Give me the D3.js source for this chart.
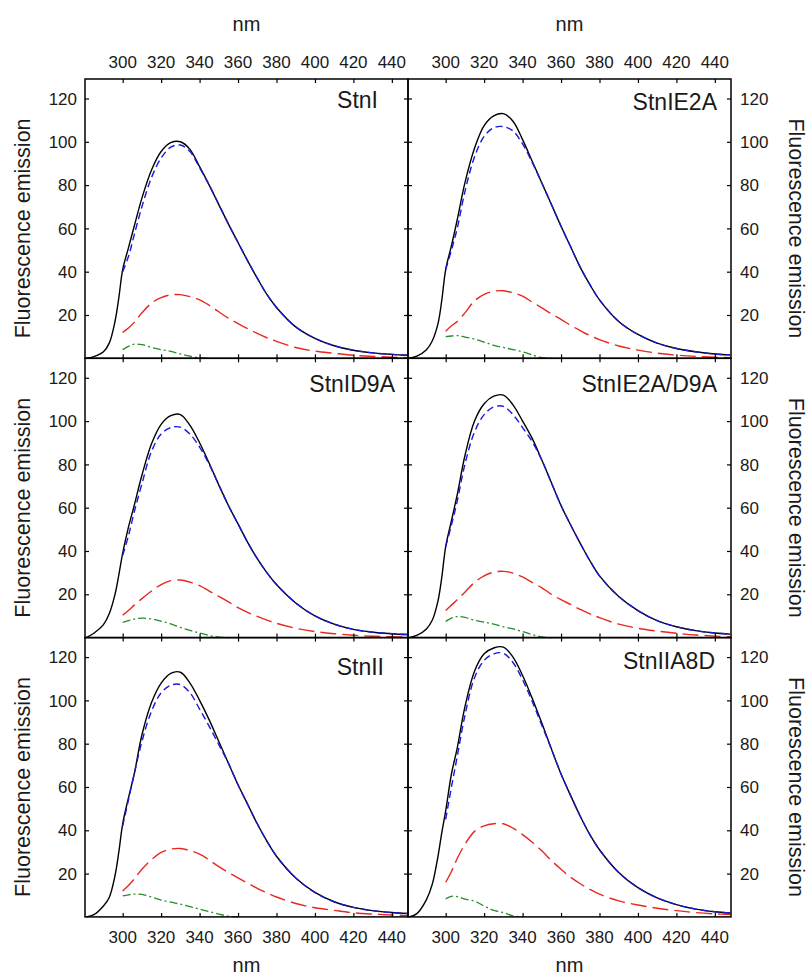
<!DOCTYPE html>
<html>
<head>
<meta charset="utf-8">
<script src="https://cdn.jsdelivr.net/npm/d3@7"></script>
<style>
  body { margin: 0; background: #fff; }
  svg { display: block; }
  text { font-family: "Liberation Sans", Arial, sans-serif; fill: #1a1a1a; }
</style>
</head>
<body>
<svg id="chart" width="811" height="979"></svg>
<script>
// panel labels, row by row
const panelNames = ["StnI", "StnIE2A", "StnID9A", "StnIE2A/D9A", "StnII", "StnIIA8D"];

// wavelength grids (nm)
const wlTotal = [281, 285, 290, 293, 296, 298, 300, 303, 306, 310, 315, 320, 325, 330, 335, 340, 345, 350, 355, 360, 365, 370, 375, 380, 390, 400, 410, 420, 430, 440, 448];
const wlComp = [300, 303, 306, 310, 315, 320, 325, 330, 335, 340, 345, 350, 355, 360, 365, 370, 375, 380, 390, 400, 410, 420, 430, 440, 448];
const wlMinor = [300, 303, 306, 310, 315, 320, 325, 330, 335, 340, 345, 350, 355, 360];

const xTicks = [300, 320, 340, 360, 380, 400, 420, 440];
const yTicks = [20, 40, 60, 80, 100, 120];

// measured emission (black, solid)
const stnI_total    = [0, 0.8, 3, 7, 17, 28, 41, 51, 61, 74, 87, 95.5, 99.6, 100, 96.5, 88.5, 80, 71, 62, 53.5, 45, 37, 29.5, 23.5, 14.5, 9.2, 5.8, 3.7, 2.5, 1.8, 1.4];
const stnIE2A_total = [0, 1, 4, 8, 16, 27, 41, 52, 64, 81, 97, 107.5, 112, 113, 109.5, 101, 91, 81, 71, 61, 51.5, 42, 34, 27, 17, 11, 7, 4.5, 3, 2, 1.6];
const stnID9A_total = [0, 2, 6, 11, 20, 29, 39, 51, 61, 75, 89.5, 98.5, 102.5, 103, 98, 90, 80.5, 70.5, 61, 52.5, 44, 36.5, 30, 24.5, 16, 10, 6.2, 3.8, 2.5, 1.8, 1.4];
const stnIE2AD9A_total = [0, 1, 4, 8, 17, 28, 42, 54, 66, 84, 100, 108, 111.5, 112, 107.5, 100, 92, 82, 71.5, 61, 52, 43.5, 35.5, 28.5, 19, 12.5, 7.8, 5, 3.2, 2.1, 1.6];
const stnII_total   = [0, 1, 5, 9, 19, 30, 43, 55, 66, 84, 99, 108, 112.5, 113, 108, 100, 91, 81, 71, 61, 52, 43, 35, 28, 18, 11.3, 7, 4.4, 2.9, 2, 1.6];
const stnIIA8D_total = [0, 1.5, 8, 15, 28, 39, 49, 66, 78, 97, 113.5, 121.5, 124.2, 124.6, 120, 111.5, 101, 89.5, 77.5, 66, 56, 46.5, 38, 31, 20.5, 13.5, 8.8, 5.7, 3.6, 2.4, 1.8];

// first component (blue, short dash)
const stnI_c1    = [40, 47, 57, 70, 83.5, 92.5, 97.5, 98.5, 95.5, 88, 80, 71, 62, 53.5, 45, 37, 29.5, 23.5, 14.5, 9.2, 5.8, 3.7, 2.5, 1.8, 1.4];
const stnIE2A_c1 = [41, 50, 60, 77, 93, 102.5, 106.5, 107, 105, 99, 90.5, 81, 71, 61, 51.5, 42, 34, 27, 17, 11, 7, 4.5, 3, 2, 1.6];
const stnID9A_c1 = [38, 47, 58, 71, 86, 94, 97, 97.2, 94, 88, 80, 70.5, 61, 52.5, 44, 36.5, 30, 24.5, 16, 10, 6.2, 3.8, 2.5, 1.8, 1.4];
const stnIE2AD9A_c1 = [42, 52, 63, 80, 95, 103, 106.5, 106.8, 103, 97, 90.5, 82, 71.5, 61, 52, 43.5, 35.5, 28.5, 19, 12.5, 7.8, 5, 3.2, 2.1, 1.6];
const stnII_c1   = [42, 54, 66, 81, 95, 103.5, 107, 107.3, 103.5, 96, 88, 79.5, 71, 61, 52, 43, 35, 28, 18, 11.3, 7, 4.4, 2.9, 2, 1.6];
const stnIIA8D_c1 = [45, 60, 74, 93, 110.5, 118.5, 121.5, 121.8, 117.5, 109.5, 99.5, 88.5, 77.5, 66, 56, 46.5, 38, 31, 20.5, 13.5, 8.8, 5.7, 3.6, 2.4, 1.8];

// second component (red, long dash)
const stnI_c2    = [12, 14, 16.6, 21, 25.5, 28, 29.3, 29.4, 28.5, 27, 24.5, 21.5, 18.5, 16, 13.7, 11.5, 9.5, 7.8, 5, 3.3, 2.3, 1.4, 0.9, 0.5, 0.3];
const stnIE2A_c2 = [12.5, 15, 17, 21, 26.5, 29.5, 31, 31.2, 30.3, 28.7, 26, 23.3, 20.5, 18, 15.2, 12.8, 10.5, 8.6, 5.7, 3.8, 2.4, 1.5, 0.9, 0.5, 0.3];
const stnID9A_c2 = [10.4, 12.5, 15, 18, 21.5, 24.5, 26.3, 26.6, 25.6, 24, 21.5, 19, 16.5, 13.8, 11.6, 9.8, 8.1, 6.6, 4.3, 2.8, 1.8, 1.1, 0.6, 0.4, 0.2];
const stnIE2AD9A_c2 = [12.5, 15, 17.5, 21, 25.5, 28.5, 30.2, 30.6, 29.8, 28, 25.5, 23, 20, 17.5, 15.3, 13, 11, 9.2, 6.2, 4.3, 3, 2, 1.2, 0.7, 0.4];
const stnII_c2   = [12, 14.5, 17.5, 22, 26.5, 29.8, 31.3, 31.6, 30.6, 29, 26.3, 23.2, 20.5, 18, 15.6, 13.2, 11.1, 9.2, 6.2, 4.2, 3, 1.9, 1.3, 0.9, 0.6];
const stnIIA8D_c2 = [16, 21, 27, 33.5, 39.5, 42, 43, 43, 41, 38, 34.5, 30.5, 26, 22, 18.3, 15.3, 12.7, 10.5, 7.4, 5.5, 4, 2.9, 2, 1.4, 1.1];

// third component (green, dash-dot)
const stnI_c3    = [4, 5.5, 6.5, 6.3, 5, 4, 3.2, 2, 1, 0.2, 0];
const stnIE2A_c3 = [10, 10.3, 10.5, 9.8, 8.9, 7.5, 6, 5, 4, 3, 1.6, 0.3, 0];
const stnID9A_c3 = [7, 7.8, 8.5, 9, 8.6, 7.6, 6.3, 4.7, 3.3, 2.1, 1, 0.2, 0];
const stnIE2AD9A_c3 = [7.5, 9, 9.7, 9.3, 8, 7.2, 6.2, 5, 4, 2.8, 1.4, 0.3, 0];
const stnII_c3   = [9.7, 10.2, 10.5, 10.4, 9.2, 7.8, 6.8, 5.9, 4.8, 3.6, 2.4, 1.3, 0.3, 0];
const stnIIA8D_c3 = [8.3, 9.5, 9.4, 8.2, 7.3, 5, 3, 2, 0.5, 0];

const panels = [
  { name: panelNames[0], total: stnI_total, c1: stnI_c1, c2: stnI_c2, c3: stnI_c3 },
  { name: panelNames[1], total: stnIE2A_total, c1: stnIE2A_c1, c2: stnIE2A_c2, c3: stnIE2A_c3 },
  { name: panelNames[2], total: stnID9A_total, c1: stnID9A_c1, c2: stnID9A_c2, c3: stnID9A_c3 },
  { name: panelNames[3], total: stnIE2AD9A_total, c1: stnIE2AD9A_c1, c2: stnIE2AD9A_c2, c3: stnIE2AD9A_c3 },
  { name: panelNames[4], total: stnII_total, c1: stnII_c1, c2: stnII_c2, c3: stnII_c3 },
  { name: panelNames[5], total: stnIIA8D_total, c1: stnIIA8D_c1, c2: stnIIA8D_c2, c3: stnIIA8D_c3 }
];

// layout
const marginLeft = 85, marginTop = 79, colW = 323, rowH = 279.3;
const titleInset = [30, 14, 13, 14, 24, 16];
const titleBase = [29, 31, 34, 34, 37, 31];

const svg = d3.select("#chart");

const x = d3.scaleLinear().domain([280.4, 448.4]).range([0, colW]);
const y = d3.scaleLinear().domain([0, 129]).range([rowH, 0]);

const zip = (xs, vs) => vs.map((v, i) => ({ nm: xs[i], v: v }));

const line = d3.line()
  .x(d => x(d.nm))
  .y(d => y(d.v))
  .curve(d3.curveCatmullRom.alpha(0.5));

const series = [
  { key: "c3", xs: wlMinor, color: "#2c8a2c", dash: "8,3,2,3", width: 1.3 },
  { key: "c2", xs: wlComp, color: "#e8281f", dash: "16,6", width: 1.4 },
  { key: "total", xs: wlTotal, color: "#000", dash: null, width: 1.4 },
  { key: "c1", xs: wlComp, color: "#1818e0", dash: "7,4", width: 1.4 }
];

panels.forEach((p, i) => {
  const col = i % 2, row = Math.floor(i / 2);
  const g = svg.append("g")
    .attr("transform", `translate(${marginLeft + col * colW},${marginTop + row * rowH})`);

  series.forEach(s => {
    g.append("path")
      .attr("d", line(zip(s.xs, p[s.key])))
      .attr("fill", "none")
      .attr("stroke", s.color)
      .attr("stroke-width", s.width)
      .attr("stroke-dasharray", s.dash);
  });

  // inward ticks on all four sides
  g.append("g").call(d3.axisBottom(x).tickValues(xTicks).tickSize(4).tickFormat(""))
    .call(a => a.select(".domain").remove());
  g.append("g").attr("transform", `translate(0,${rowH})`)
    .call(d3.axisTop(x).tickValues(xTicks).tickSize(4).tickFormat(""))
    .call(a => a.select(".domain").remove());
  g.append("g").call(d3.axisRight(y).tickValues(yTicks).tickSize(4).tickFormat(""))
    .call(a => a.select(".domain").remove());
  g.append("g").attr("transform", `translate(${colW},0)`)
    .call(d3.axisLeft(y).tickValues(yTicks).tickSize(4).tickFormat(""))
    .call(a => a.select(".domain").remove());
  g.selectAll(".tick line").attr("stroke", "#000").attr("stroke-width", 1.2);

  g.append("rect")
    .attr("width", colW).attr("height", rowH)
    .attr("fill", "none").attr("stroke", "#000").attr("stroke-width", 1.5);

  // y tick labels, outside edge of each column
  g.selectAll(".ylab").data(yTicks).enter().append("text")
    .attr("x", col === 0 ? -8 : colW + 9)
    .attr("y", d => y(d))
    .attr("dy", "0.36em")
    .attr("text-anchor", col === 0 ? "end" : "start")
    .style("font-size", "17px")
    .text(d => d);

  // y axis title
  g.append("text")
    .attr("transform", col === 0
      ? `translate(-55,${y(60)}) rotate(-90)`
      : `translate(${colW + 58},${y(60)}) rotate(90)`)
    .attr("text-anchor", "middle")
    .style("font-size", "21.5px")
    .text("Fluorescence emission");

  // panel title
  g.append("text")
    .attr("x", colW - titleInset[i])
    .attr("y", titleBase[i])
    .attr("text-anchor", "end")
    .style("font-size", "23px")
    .text(p.name);

  // x tick labels on top row and bottom row only
  if (row === 0 || row === 2) {
    const ty = row === 0 ? -11 : rowH + 26;
    g.selectAll(".xlab").data(xTicks).enter().append("text")
      .attr("x", d => x(d))
      .attr("y", ty)
      .attr("text-anchor", "middle")
      .style("font-size", "17px")
      .text(d => d);
    g.append("text")
      .attr("x", colW / 2)
      .attr("y", row === 0 ? -48 : rowH + 55)
      .attr("text-anchor", "middle")
      .style("font-size", "20px")
      .text("nm");
  }
});
</script>
</body>
</html>
